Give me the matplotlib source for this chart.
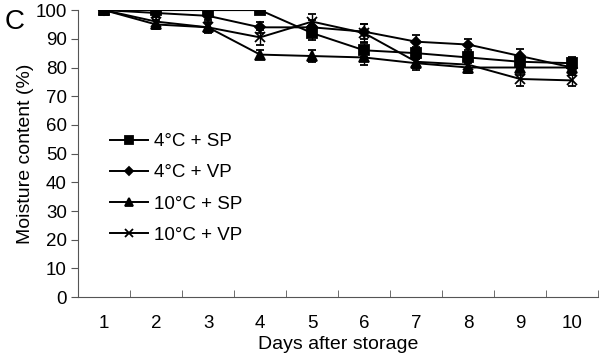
import numpy as np
import matplotlib.pyplot as plt

plt.rcParams['font.family'] = ['Liberation Sans', 'DejaVu Sans']

days = [1, 2, 3, 4, 5, 6, 7, 8, 9, 10]

sp4 = [100, 100, 100, 100, 92.0, 86.0, 85.0, 83.5, 82.0, 81.5]
sp4_err = [0.5, 1.0, 1.0, 1.0, 2.5, 2.5, 2.0, 2.0, 2.5, 2.0]
vp4 = [100, 99.0, 98.0, 94.0, 94.0, 92.5, 89.0, 88.0, 84.0, 80.0]
vp4_err = [0.5, 1.5, 1.5, 2.0, 2.5, 2.5, 2.5, 2.0, 2.5, 2.5]
sp10 = [100, 95.0, 94.0, 84.5, 84.0, 83.5, 81.5, 80.0, 80.0, 80.0]
sp10_err = [0.5, 1.5, 2.0, 1.5, 2.0, 2.5, 2.5, 2.0, 2.5, 2.0]
vp10 = [100, 96.0, 94.0, 90.5, 96.0, 92.0, 82.0, 81.0, 76.0, 75.5]
vp10_err = [0.5, 1.5, 1.5, 2.5, 2.5, 3.0, 2.0, 2.0, 2.5, 2.0]

labels = ['4°C + SP', '4°C + VP', '10°C + SP', '10°C + VP']
markers = ['s', 'D', '^', 'x']
msizes = [7.5, 5.5, 7, 7]

fig = plt.figure(figsize=(6, 3.61), dpi=100)
ax = fig.add_axes([0.13, 0.177, 0.867, 0.795])

series = [(sp4, sp4_err), (vp4, vp4_err), (sp10, sp10_err), (vp10, vp10_err)]
for (vals, err), lab, m, ms in zip(series, labels, markers, msizes):
    ax.errorbar(days, vals, yerr=err, color='black', lw=1.4, marker=m, ms=ms,
                mew=1.3, capsize=3, elinewidth=1.0, capthick=1.0, label=lab)

ax.set_xlim(0.5, 10.5)
ax.set_ylim(0, 100)
ax.set_yticks(np.arange(0, 101, 10))
ax.set_xticks(days)
ax.set_xticks(np.arange(0.5, 11, 1), minor=True)
ax.tick_params(axis='x', which='major', length=0, pad=13, labelsize=13.5)
ax.tick_params(axis='x', which='minor', direction='in', length=5, color='#555555')
ax.tick_params(axis='y', direction='out', length=5, pad=3, labelsize=13.5, color='#555555')
ax.spines['top'].set_visible(False)
ax.spines['right'].set_visible(False)
ax.spines['left'].set_color('#555555')
ax.spines['bottom'].set_color('#555555')

ax.set_xlabel('Days after storage', fontsize=14, labelpad=3)
ax.set_ylabel('Moisture content (%)', fontsize=14, labelpad=1)

handles, labs = ax.get_legend_handles_labels()
handles = [h[0] for h in handles]
ax.legend(handles, labs, loc='upper left', bbox_to_anchor=(0.03, 0.63),
          frameon=False, fontsize=13.5, labelspacing=0.75, handlelength=2.0,
          handletextpad=0.3, markerscale=0.75)

fig.text(0.008, 0.975, 'C', fontsize=20, va='top', ha='left')

fig.savefig('out.png', dpi=100)
